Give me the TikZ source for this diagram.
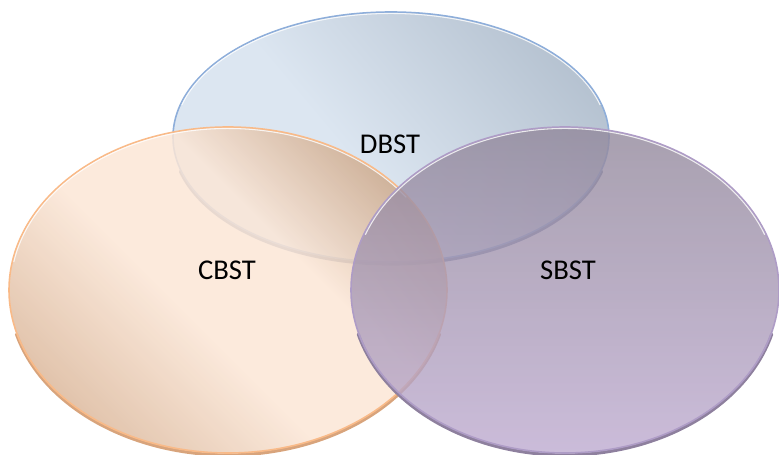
\documentclass[tikz,border=0pt]{standalone}
\usepackage{fontspec}
\setmainfont{Carlito}
\usepackage{tikz}
\usetikzlibrary{shapes.geometric}
\definecolor{dbst_line}{HTML}{8EAEDA}
\definecolor{dbst_light}{HTML}{DCE6F1}
\definecolor{dbst_mid}{HTML}{CBD6E2}
\definecolor{dbst_dark}{HTML}{A4B2C2}
\definecolor{dbst_rim}{HTML}{8191B0}
\definecolor{cbst_line}{HTML}{F9BA88}
\definecolor{cbst_light}{HTML}{FBE6D6}
\definecolor{cbst_dark}{HTML}{CCA280}
\definecolor{cbst_top}{HTML}{C59F7F}
\definecolor{cbst_rim}{HTML}{D8A47C}
\definecolor{sbst_line}{HTML}{AE9CC6}
\definecolor{sbst_top}{HTML}{92889B}
\definecolor{sbst_bottom}{HTML}{BEABD0}
\definecolor{sbst_rim}{HTML}{8E809E}
\pgfdeclareverticalshading{cbst_shade}{100bp}{color(0bp)=(cbst_dark); color(20bp)=(cbst_dark);
  color(45bp)=(cbst_light); color(58bp)=(cbst_light); color(74bp)=(cbst_top); color(100bp)=(cbst_top)}
\pgfdeclareverticalshading{dbst_shade}{100bp}{color(0bp)=(dbst_mid); color(30bp)=(dbst_light);
  color(45bp)=(dbst_light); color(82bp)=(dbst_dark); color(100bp)=(dbst_dark)}
\tikzset{venn_set/.style={ellipse, inner sep=0pt, outer sep=0pt, line width=0.9pt}}
\tikzset{venn_rim/.style={line width=1.8pt, line cap=round}}
\tikzset{venn_gloss/.style={white, line width=0.6pt, draw opacity=0.8}}
\tikzset{venn_label/.style={font=\fontsize{16.3}{19}\selectfont, text=black}}

\begin{document}
\begin{tikzpicture}
    \useasboundingbox (0,0) rectangle (15.58,9.10);
    \coordinate (dbst_c) at (7.82,6.36);
    \coordinate (cbst_c) at (4.56,3.30);
    \coordinate (sbst_c) at (11.30,3.30);

    % DBST, at the back
    \draw[venn_rim, dbst_rim] (dbst_c) ++(0,-0.04) ++(195:4.36 and 2.5) arc[start angle=195, end angle=345, x radius=4.36, y radius=2.5];
    \node[venn_set, minimum width=8.72cm, minimum height=5cm, draw=dbst_line,
          path picture={\shade[shading=dbst_shade, shading angle=-50]
            (path picture bounding box.center) ++(-4.5,-4.5) rectangle ++(9,9);}] (dbst) at (dbst_c) {};
    \draw[venn_gloss] (dbst_c) ++(165:4.33 and 2.47) arc[start angle=165, end angle=15, x radius=4.33, y radius=2.47];

    % CBST
    \draw[venn_rim, cbst_rim] (cbst_c) ++(0,-0.04) ++(195:4.38 and 3.26) arc[start angle=195, end angle=345, x radius=4.38, y radius=3.26];
    \node[venn_set, minimum width=8.76cm, minimum height=6.52cm, draw=cbst_line,
          path picture={\shade[shading=cbst_shade, shading angle=-45, fill opacity=0.85]
            (path picture bounding box.center) ++(-4.5,-4.5) rectangle ++(9,9);}] (cbst) at (cbst_c) {};
    \draw[venn_gloss] (cbst_c) ++(170:4.35 and 3.23) arc[start angle=170, end angle=35, x radius=4.35, y radius=3.23];

    % SBST, in front
    \draw[venn_rim, sbst_rim] (sbst_c) ++(0,-0.04) ++(195:4.28 and 3.26) arc[start angle=195, end angle=345, x radius=4.28, y radius=3.26];
    \node[venn_set, minimum width=8.56cm, minimum height=6.52cm, draw=sbst_line, fill opacity=0.8,
          top color=sbst_top, bottom color=sbst_bottom] (sbst) at (sbst_c) {};
    \draw[venn_gloss] (sbst_c) ++(160:4.25 and 3.23) arc[start angle=160, end angle=20, x radius=4.25, y radius=3.23];

    \node[venn_label] (dbst_label) at (7.80,6.22) {DBST};
    \node[venn_label] (cbst_label) at (4.54,3.70) {CBST};
    \node[venn_label] (sbst_label) at (11.36,3.70) {SBST};
\end{tikzpicture}
\end{document}
